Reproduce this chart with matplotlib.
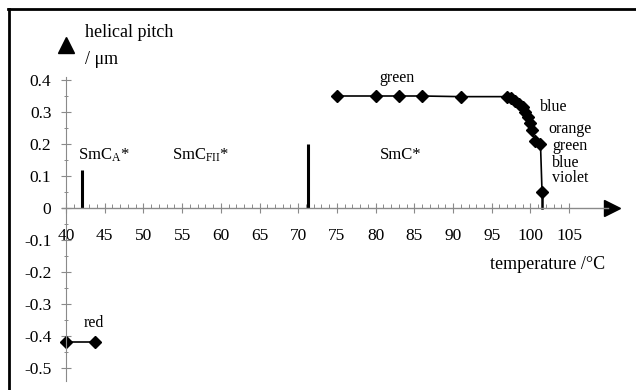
import matplotlib
matplotlib.use("Agg")
import matplotlib.pyplot as plt
from matplotlib.ticker import FixedLocator
from matplotlib.lines import Line2D
import numpy as np

plt.rcParams['font.family'] = ['Liberation Serif', 'DejaVu Serif']
plt.rcParams['mathtext.fontset'] = 'custom'
plt.rcParams['mathtext.rm'] = 'Liberation Serif'
plt.rcParams['mathtext.it'] = 'Liberation Serif:italic'
plt.rcParams['axes.unicode_minus'] = False

# SmC* branch, helical pitch (um) vs temperature (C)
temp = [75, 80, 83, 86, 91, 97, 97.5, 98, 98.5, 99, 99.3, 99.7, 100, 100.2, 100.6, 101.3, 101.5]
pitch = [0.35, 0.35, 0.35, 0.35, 0.348, 0.348, 0.345, 0.335, 0.325, 0.315, 0.30, 0.285,
         0.265, 0.245, 0.21, 0.20, 0.05]
# SmCA* branch (negative pitch)
temp_red = [40, 43.8]
pitch_red = [-0.42, -0.42]
# phase transitions
trans_temp = [42, 71.3]
trans_height = [0.12, 0.2]

xticks = list(range(40, 106, 5))
yticks = [-0.5, -0.4, -0.3, -0.2, -0.1, 0, 0.1, 0.2, 0.3, 0.4]
ytick_labels = ['-0.5', '-0.4', '-0.3', '-0.2', '-0.1', '0', '0.1', '0.2', '0.3', '0.4']

fig = plt.figure(figsize=(6.36, 3.90), dpi=100)
ax = fig.add_axes([0, 0, 1, 1])
ax.set_xlim(31.47, 113.64)
ax.set_ylim(-0.56875, 0.65)
ax.patch.set_visible(False)

grey = '#8a8a8a'
for s in ['top', 'right']:
    ax.spines[s].set_visible(False)
ax.spines['bottom'].set_position(('data', 0))
ax.spines['left'].set_position(('data', 40))
ax.spines['bottom'].set_bounds(39.5, 110)
ax.spines['left'].set_bounds(-0.54, 0.41)
ax.spines['bottom'].set_color(grey)
ax.spines['left'].set_color(grey)
ax.spines['bottom'].set_linewidth(1.0)
ax.spines['left'].set_linewidth(0.8)

ax.set_xticks(xticks)
ax.set_xticklabels([str(t) for t in xticks])
ax.xaxis.set_minor_locator(FixedLocator([v for v in range(40, 106) if v % 5]))
ax.set_yticks(yticks)
ax.set_yticklabels(ytick_labels)
ax.yaxis.set_minor_locator(FixedLocator(np.arange(-0.45, 0.4, 0.1)))
ax.tick_params(axis='x', which='major', direction='inout', length=7, width=0.8,
               color=grey, pad=11, labelsize=12.5)
ax.tick_params(axis='x', which='minor', direction='in', length=3, width=0.7, color=grey)
ax.tick_params(axis='y', which='major', direction='inout', length=7, width=0.8,
               color=grey, pad=7, labelsize=12.5)
ax.tick_params(axis='y', which='minor', direction='inout', length=3, width=0.7, color=grey)

# arrow heads of the axes
ax.plot([110.6], [0], marker='>', ms=11, color='black', clip_on=False)
ax.plot([40], [0.509], marker='^', ms=11, color='black', clip_on=False)

# data
ax.plot(temp, pitch, color='black', lw=1.2, marker='D', ms=6, clip_on=False)
ax.plot([temp[-1], temp[-1]], [pitch[-1], 0], color='black', lw=1.8)
ax.plot(temp_red, pitch_red, color='black', lw=1.2, marker='D', ms=6, clip_on=False)
for t, h in zip(trans_temp, trans_height):
    ax.plot([t, t], [0, h], color='black', lw=2.2, solid_capstyle='butt')

# axis titles
ax.text(42.45, 0.547, 'helical pitch', fontsize=13, va='center', ha='left')
ax.text(42.45, 0.4625, '/ μm', fontsize=13, va='center', ha='left')
ax.text(109.6, -0.178, 'temperature /°C', fontsize=13, va='center', ha='right')

# phase labels
ax.text(41.55, 0.166, r'SmC$_\mathregular{A}$*', fontsize=12, va='center', ha='left')
ax.text(53.7, 0.166, r'SmC$_\mathregular{FII}$*', fontsize=12, va='center', ha='left')
ax.text(80.6, 0.166, 'SmC*', fontsize=12, va='center', ha='left')

# colour labels
lab = dict(fontsize=11.5, va='center', ha='left')
ax.text(82.8, 0.406, 'green', fontsize=11.5, va='center', ha='center')
ax.text(101.2, 0.316, 'blue', **lab)
ax.text(102.3, 0.247, 'orange', **lab)
ax.text(102.8, 0.194, 'green', **lab)
ax.text(102.8, 0.140, 'blue', **lab)
ax.text(102.8, 0.094, 'violet', **lab)
ax.text(43.6, -0.36, 'red', fontsize=11.5, va='center', ha='center')

# partial frame (top and left edges)
fig.add_artist(Line2D([8.5 / 636, 8.5 / 636], [0, 1 - 8.5 / 390], color='black', lw=2,
                      transform=fig.transFigure))
fig.add_artist(Line2D([7.5 / 636, 1], [1 - 8.5 / 390, 1 - 8.5 / 390], color='black', lw=2,
                      transform=fig.transFigure))

fig.savefig('out.png', dpi=100)
